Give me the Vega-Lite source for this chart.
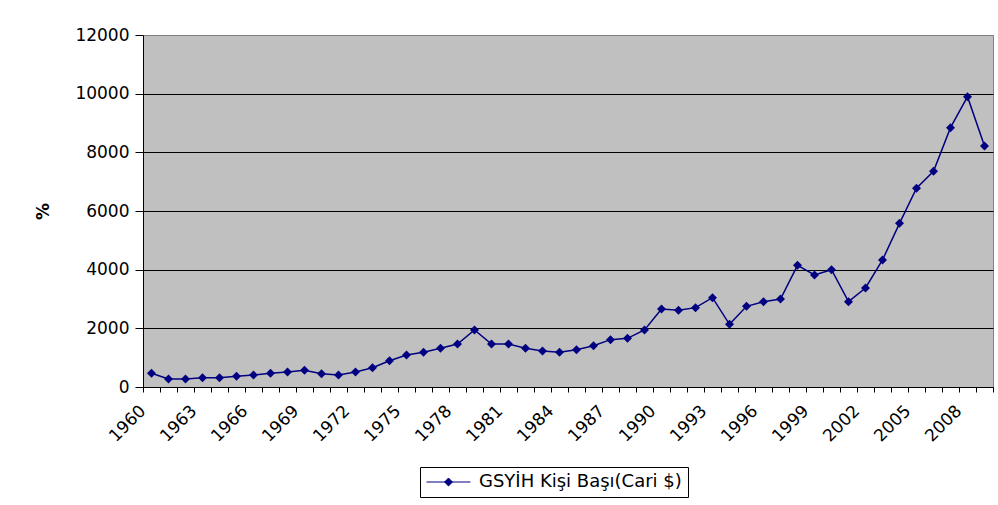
{
  "$schema": "https://vega.github.io/schema/vega-lite/v6.json",
  "autosize": {"type": "none"},
  "padding": {"left": 143, "top": 35, "right": 5, "bottom": 118},
  "width": 850,
  "height": 352,
  "background": "white",
  "data": {"values": [
    {"year": 1960, "value": 467}, {"year": 1961, "value": 273}, {"year": 1962, "value": 273},
    {"year": 1963, "value": 318}, {"year": 1964, "value": 318}, {"year": 1965, "value": 364},
    {"year": 1966, "value": 409}, {"year": 1967, "value": 467}, {"year": 1968, "value": 511},
    {"year": 1969, "value": 569}, {"year": 1970, "value": 455}, {"year": 1971, "value": 409},
    {"year": 1972, "value": 511}, {"year": 1973, "value": 659}, {"year": 1974, "value": 897},
    {"year": 1975, "value": 1091}, {"year": 1976, "value": 1182}, {"year": 1977, "value": 1318},
    {"year": 1978, "value": 1466}, {"year": 1979, "value": 1943}, {"year": 1980, "value": 1466},
    {"year": 1981, "value": 1466}, {"year": 1982, "value": 1318}, {"year": 1983, "value": 1227},
    {"year": 1984, "value": 1182}, {"year": 1985, "value": 1273}, {"year": 1986, "value": 1409},
    {"year": 1987, "value": 1614}, {"year": 1988, "value": 1659}, {"year": 1989, "value": 1943},
    {"year": 1990, "value": 2659}, {"year": 1991, "value": 2614}, {"year": 1992, "value": 2705},
    {"year": 1993, "value": 3045}, {"year": 1994, "value": 2138}, {"year": 1995, "value": 2750},
    {"year": 1996, "value": 2909}, {"year": 1997, "value": 3000}, {"year": 1998, "value": 4148},
    {"year": 1999, "value": 3818}, {"year": 2000, "value": 4000}, {"year": 2001, "value": 2909},
    {"year": 2002, "value": 3375}, {"year": 2003, "value": 4330}, {"year": 2004, "value": 5580},
    {"year": 2005, "value": 6775}, {"year": 2006, "value": 7354}, {"year": 2007, "value": 8841},
    {"year": 2008, "value": 9898}, {"year": 2009, "value": 8217}
  ]},
  "encoding": {
    "x": {
      "field": "year", "type": "ordinal", "bandPosition": 0.5,
      "scale": {"type": "band", "paddingInner": 0, "paddingOuter": 0},
      "axis": {
        "title": null, "tickBand": "extent", "grid": false,
        "domainColor": "black", "tickColor": "black", "tickSize": 5,
        "labelExpr": "(datum.value - 1960) % 3 == 0 ? datum.label : ''",
        "labelAngle": -45, "labelAlign": "right", "labelBaseline": "middle",
        "labelPadding": 16, "labelOffset": -9, "labelOverlap": false,
        "labelFont": "DejaVu Sans", "labelFontSize": 17, "labelColor": "black"
      }
    },
    "y": {
      "field": "value", "type": "quantitative",
      "scale": {"domain": [0, 12000], "nice": false},
      "axis": {
        "values": [0, 2000, 4000, 6000, 8000, 10000, 12000],
        "format": "d",
        "grid": true,
        "gridColor": {"condition": {"test": "datum.value == 12000", "value": "#808080"}, "value": "black"},
        "gridWidth": 1, "gridOpacity": 1,
        "domainColor": "black", "tickColor": "black", "tickSize": 8,
        "labelPadding": 6,
        "labelFont": "DejaVu Sans", "labelFontSize": 17, "labelColor": "black",
        "title": "%", "titleFont": "DejaVu Sans", "titleFontSize": 17, "titleFontWeight": "bold",
        "titleColor": "black", "titleX": -100, "titleY": 176, "titleAngle": -90,
        "titleAlign": "center", "titleBaseline": "middle"
      }
    },
    "color": {
      "datum": "GSYİH Kişi Başı(Cari $)", "type": "nominal",
      "scale": {"range": ["#000080"]},
      "legend": {
        "title": null, "orient": "none", "legendX": 277, "legendY": 432,
        "strokeColor": "black", "fillColor": "white", "padding": 6,
        "clipHeight": 18,
        "symbolType": "M-1,0L1,0M-0.18,0L0,-0.18L0.18,0L0,0.18Z",
        "symbolSize": 1936, "symbolStrokeWidth": 1,
        "symbolFillColor": "#000080", "symbolStrokeColor": "#000080",
        "labelFont": "DejaVu Sans", "labelFontSize": 18, "labelColor": "black",
        "labelLimit": 400, "labelOffset": 8
      }
    }
  },
  "layer": [
    {"mark": {"type": "line", "strokeWidth": 1.5}},
    {"mark": {"type": "point", "shape": "diamond", "filled": true, "size": 80, "opacity": 1}}
  ],
  "config": {
    "view": {"fill": "#C0C0C0", "stroke": "#808080", "strokeWidth": 1}
  }
}
